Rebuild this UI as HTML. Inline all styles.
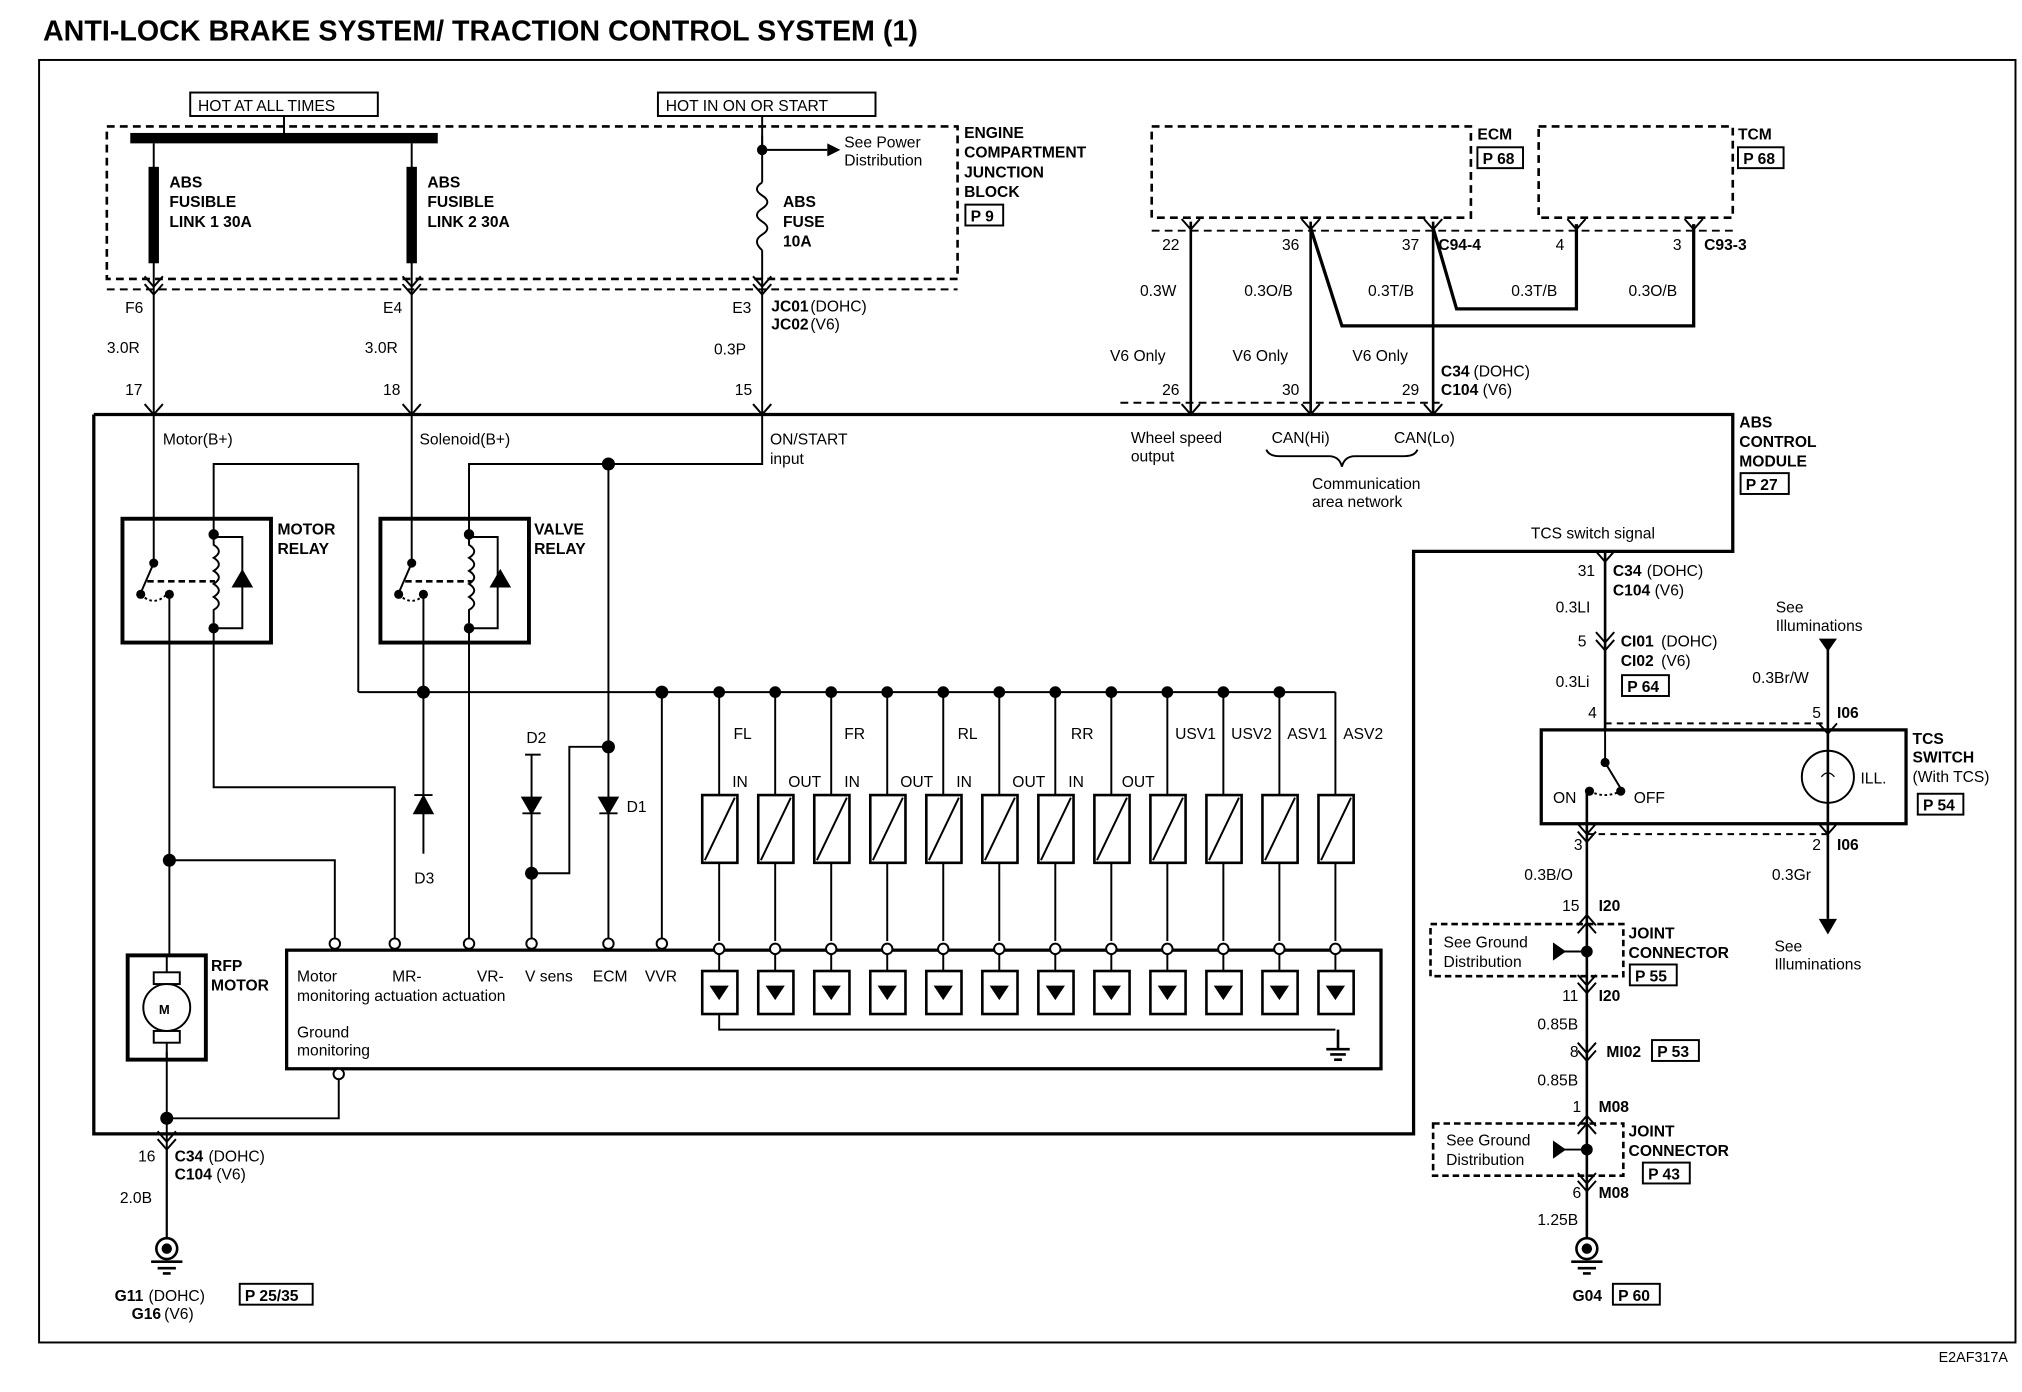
<!DOCTYPE html>
<html><head><meta charset="utf-8"><style>
html,body{margin:0;padding:0;background:#fff}
svg{display:block}
text{font-family:"Liberation Sans",Arial,sans-serif;font-size:13px;fill:#000}
.b{font-weight:bold}
.s{font-size:12px}
</style></head><body>
<svg width="2022" height="1392" viewBox="0 0 1552 1068" preserveAspectRatio="none" xmlns="http://www.w3.org/2000/svg">
<rect width="1552" height="1068" fill="#fff"/>
<text x="33" y="31" class="b" style="font-size:22px">ANTI-LOCK BRAKE SYSTEM/ TRACTION CONTROL SYSTEM (1)</text>
<rect x="30" y="46" width="1517" height="984" fill="none" stroke="#000" stroke-width="1.5"/>
<text x="1488" y="1045" style="font-size:11px">E2AF317A</text>

<g fill="none" stroke="#000" stroke-width="1.5">
<rect x="146" y="71" width="144" height="18"/>
<rect x="505" y="71" width="167" height="18"/>
<line x1="218" y1="89" x2="218" y2="104"/>
<line x1="585" y1="89" x2="585" y2="115"/>
<rect x="82" y="97" width="653" height="117" stroke-dasharray="6,4" stroke-width="2"/>
<line x1="82" y1="222" x2="735" y2="222" stroke-dasharray="6,4"/>
<line x1="118" y1="110" x2="118" y2="318"/>
<line x1="316" y1="110" x2="316" y2="318"/>
<line x1="585" y1="104" x2="585" y2="140"/>
<line x1="585" y1="192" x2="585" y2="318"/>
<path d="M585 140 q-8 5 0 10 q8 5 0 10 q-8 5 0 10 q8 5 0 10 q-8 5 0 12"/>
<line x1="585" y1="115" x2="635" y2="115"/>
<rect x="884" y="97" width="245" height="70" stroke-dasharray="6,4" stroke-width="2"/>
<rect x="1181" y="97" width="149" height="70" stroke-dasharray="6,4" stroke-width="2"/>
<line x1="884" y1="177" x2="1330" y2="177" stroke-dasharray="6,4"/>
<line x1="860" y1="309" x2="1105" y2="309" stroke-dasharray="6,4"/>
<line x1="914" y1="170" x2="914" y2="318" stroke-width="2"/>
<line x1="1006" y1="170" x2="1006" y2="318" stroke-width="2"/>
<line x1="1100" y1="170" x2="1100" y2="318" stroke-width="2"/>
<polyline points="1006,175 1030,250 1300,250 1300,172" stroke-width="2.5"/>
<polyline points="1100,175 1118,237 1210,237 1210,172" stroke-width="2.5"/>
<polyline points="72,318 1330,318 1330,423 1085,423 1085,870 72,870 72,318" stroke-width="2.5"/>
<path d="M972 345 q2 5 10 5 h38 q8 0 10 8 q2 -8 10 -8 h38 q8 0 10 -5"/>
<path d="M111 310 l7 8 l7 -8 M309 310 l7 8 l7 -8 M578 310 l7 8 l7 -8 M907 310 l7 8 l7 -8 M999 310 l7 8 l7 -8 M1093 310 l7 8 l7 -8"/>
<path d="M111 212 l7 8 l7 -8 M111 218 l7 8 l7 -8 M309 212 l7 8 l7 -8 M309 218 l7 8 l7 -8 M578 212 l7 8 l7 -8 M578 218 l7 8 l7 -8"/>
<path d="M907 168 l7 8 l7 -8 M999 168 l7 8 l7 -8 M1093 168 l7 8 l7 -8 M1203 168 l7 8 l7 -8 M1293 168 l7 8 l7 -8"/>
<rect x="94" y="398" width="114" height="95" stroke-width="3"/>
<rect x="292" y="398" width="114" height="95" stroke-width="3"/>
<line x1="118" y1="318" x2="118" y2="432"/>
<line x1="118" y1="432" x2="108" y2="455"/>
<path d="M108 456 q10 10 20 0" stroke-dasharray="2,2"/>
<line x1="113" y1="446" x2="165" y2="446" stroke-dasharray="5,3" stroke-width="2"/>
<line x1="130" y1="456" x2="130" y2="733"/>
<polyline points="164,410 164,356 275,356 275,531"/>
<path d="M164 410 v8 q8 5 0 10 q8 5 0 10 q8 5 0 10 q8 5 0 10 q8 5 0 10 v10"/>
<polyline points="164,412 186,412 186,482 164,482"/>
<polyline points="164,482 164,604 303,604 303,722"/>
<path d="M179 450 h14 M186 438 l-7 12 h14 z" fill="#000"/>
<line x1="316" y1="318" x2="316" y2="432"/>
<line x1="316" y1="432" x2="306" y2="455"/>
<path d="M306 456 q10 10 20 0" stroke-dasharray="2,2"/>
<line x1="311" y1="446" x2="362" y2="446" stroke-dasharray="5,3" stroke-width="2"/>
<line x1="325" y1="456" x2="325" y2="610"/>
<line x1="325" y1="624" x2="325" y2="655"/>
<path d="M318 610 h14 M318 624 l7 -13 l7 13 z" fill="#000"/>
<polyline points="360,410 360,356 585,356 585,318"/>
<path d="M360 410 v8 q8 5 0 10 q8 5 0 10 q8 5 0 10 q8 5 0 10 q8 5 0 10 v10"/>
<polyline points="360,412 382,412 382,482 360,482"/>
<line x1="360" y1="482" x2="360" y2="722"/>
<path d="M377 450 h14 M384 438 l-7 12 h14 z" fill="#000"/>
<line x1="275" y1="531" x2="986" y2="531"/>
<line x1="467" y1="356" x2="467" y2="722"/>
<path d="M460 624 h14 M460 612 l7 12 l7 -12 z" fill="#000"/>
<line x1="403" y1="579" x2="415" y2="579"/>
<line x1="408" y1="579" x2="408" y2="722"/>
<path d="M401 624 h14 M401 612 l7 12 l7 -12 z" fill="#000"/>
<polyline points="408,670 437,670 437,573 467,573"/>
<line x1="508" y1="531" x2="508" y2="722"/>
<polyline points="130,660 257,660 257,722"/>
<polyline points="128,807 128,875 128,950"/>
<polyline points="128,858 260,858 260,826"/>
<rect x="220" y="729" width="840" height="91" stroke-width="2.5"/>
<rect x="98" y="733" width="60" height="80" stroke-width="3"/>
<circle cx="128" cy="773" r="18"/>
<rect x="118" y="746" width="20" height="9"/>
<rect x="118" y="791" width="20" height="9"/>
<line x1="128" y1="733" x2="128" y2="746"/>
<line x1="128" y1="800" x2="128" y2="813"/>
<path d="M121 868 l7 8 l7 -8 M121 874 l7 8 l7 -8"/>
<line x1="128" y1="882" x2="128" y2="950"/>
<line x1="1232" y1="423" x2="1232" y2="560" stroke-width="2"/>
<path d="M1225 423 l7 8 l7 -8 M1225 485 l7 8 l7 -8 M1225 491 l7 8 l7 -8"/>
<line x1="1232" y1="555" x2="1403" y2="555" stroke-dasharray="5,4"/>
<rect x="1183" y="560" width="280" height="72" stroke-width="2.5"/>
<line x1="1232" y1="560" x2="1232" y2="585"/>
<line x1="1232" y1="585" x2="1244" y2="605"/>
<path d="M1220 607 q12 6 24 0" stroke-dasharray="2,2"/>
<line x1="1218" y1="607" x2="1218" y2="950" stroke-width="2"/>
<line x1="1218" y1="640" x2="1403" y2="640" stroke-dasharray="5,4"/>
<line x1="1403" y1="498" x2="1403" y2="705" stroke-width="2"/>
<circle cx="1403" cy="596" r="20"/>
<path d="M1396 555 l7 8 l7 -8 M1396 632 l7 8 l7 -8 M1211 632 l7 8 l7 -8 M1211 638 l7 8 l7 -8"/>
<rect x="1098" y="709" width="148" height="40" stroke-dasharray="5,3" stroke-width="2"/>
<rect x="1100" y="862" width="146" height="40" stroke-dasharray="5,3" stroke-width="2"/>
<path d="M1211 710 l7 -8 l7 8 M1211 716 l7 -8 l7 8 M1211 748 l7 8 l7 -8 M1211 754 l7 8 l7 -8 M1211 800 l7 8 l7 -8 M1211 806 l7 8 l7 -8 M1211 864 l7 -8 l7 8 M1211 870 l7 -8 l7 8 M1211 900 l7 8 l7 -8 M1211 906 l7 8 l7 -8"/>
<line x1="1200" y1="730" x2="1218" y2="730"/>
<line x1="1200" y1="882" x2="1218" y2="882"/>
</g>

<g fill="#000">
<rect x="100" y="102" width="236" height="8"/>
<rect x="114" y="128" width="8" height="74"/>
<rect x="312" y="128" width="8" height="74"/>
<circle cx="585" cy="115" r="4"/>
<path d="M635 110 l10 5 l-10 5 z"/>
<circle cx="164" cy="410" r="4"/><circle cx="164" cy="482" r="4"/>
<circle cx="118" cy="432" r="3.5"/><circle cx="108" cy="456" r="3.5"/><circle cx="130" cy="456" r="3.5"/>
<circle cx="360" cy="410" r="4"/><circle cx="360" cy="482" r="4"/>
<circle cx="316" cy="432" r="3.5"/><circle cx="306" cy="456" r="3.5"/><circle cx="325" cy="456" r="3.5"/>
<circle cx="467" cy="356" r="5"/><circle cx="325" cy="531" r="5"/><circle cx="508" cy="531" r="5"/>
<circle cx="467" cy="573" r="5"/><circle cx="408" cy="670" r="5"/><circle cx="130" cy="660" r="5"/><circle cx="128" cy="858" r="5"/>
<circle cx="1232" cy="585" r="3.5"/><circle cx="1244" cy="607" r="3.5"/><circle cx="1220" cy="607" r="3.5"/>
<path d="M1396 490 h14 l-7 10 z"/>
<path d="M1396 705 h14 l-7 12 z"/>
<circle cx="1218" cy="730" r="4.5"/><circle cx="1218" cy="882" r="4.5"/>
<path d="M1192 723 l10 7 l-10 7 z"/><path d="M1192 875 l10 7 l-10 7 z"/>
</g>
<g fill="none" stroke="#000" stroke-width="2">
<circle cx="128" cy="958" r="8"/><circle cx="1218" cy="958" r="8"/>
<path d="M116 968 h24 M121 973 h14 M125 977 h6 M1206 968 h24 M1211 973 h14 M1215 977 h6"/>
<path d="M1027 790 v15 M1018 805 h18 M1021 809 h12 M1024 813 h6"/>
</g>
<circle cx="128" cy="958" r="4"/><circle cx="1218" cy="958" r="4"/>
<path d="M1398 596 q5 -6 10 0 M1403 592 v10" stroke="#000" fill="none"/>

<g fill="none" stroke="#000" stroke-width="1.5" id="sol">
<line x1="552" y1="531" x2="552" y2="610"/><rect x="539" y="610" width="27" height="52" stroke-width="2"/><line x1="541" y1="660" x2="564" y2="612"/><line x1="552" y1="662" x2="552" y2="722"/><circle cx="552" cy="728" r="4" fill="#fff"/><line x1="552" y1="732" x2="552" y2="745"/><rect x="539" y="745" width="27" height="33" stroke-width="2"/><path d="M546 757 h12 l-6 9 z" fill="#000"/>
</g>
<use href="#sol" x="43"/><use href="#sol" x="86"/><use href="#sol" x="129"/><use href="#sol" x="172"/><use href="#sol" x="215"/><use href="#sol" x="258"/><use href="#sol" x="301"/><use href="#sol" x="344"/><use href="#sol" x="387"/><use href="#sol" x="430"/><use href="#sol" x="473"/>
<g fill="#000">
<circle cx="552" cy="531" r="4.5"/><circle cx="595" cy="531" r="4.5"/><circle cx="638" cy="531" r="4.5"/><circle cx="681" cy="531" r="4.5"/><circle cx="724" cy="531" r="4.5"/><circle cx="767" cy="531" r="4.5"/><circle cx="810" cy="531" r="4.5"/><circle cx="853" cy="531" r="4.5"/><circle cx="896" cy="531" r="4.5"/><circle cx="939" cy="531" r="4.5"/><circle cx="982" cy="531" r="4.5"/>
</g>
<line x1="982" y1="531" x2="1025" y2="531" stroke="#000" stroke-width="1.5"/>
<polyline points="552,778 552,790 1025,790" fill="none" stroke="#000" stroke-width="1.5"/>
<g fill="#fff" stroke="#000" stroke-width="1.5">
<circle cx="257" cy="724" r="4"/><circle cx="303" cy="724" r="4"/><circle cx="360" cy="724" r="4"/><circle cx="408" cy="724" r="4"/><circle cx="467" cy="724" r="4"/><circle cx="508" cy="724" r="4"/><circle cx="260" cy="824" r="4"/>
</g>

<text x="152" y="85" class="s">HOT AT ALL TIMES</text>
<text x="511" y="85" class="s">HOT IN ON OR START</text>
<text x="648" y="113" class="s">See Power</text><text x="648" y="127" class="s">Distribution</text>
<text x="740" y="106" class="b s">ENGINE</text><text x="740" y="121" class="b s">COMPARTMENT</text><text x="740" y="136" class="b s">JUNCTION</text><text x="740" y="151" class="b s">BLOCK</text>
<rect x="741" y="157" width="29" height="16" fill="none" stroke="#000" stroke-width="1.5"/><text x="745" y="170" class="b s">P 9</text>
<text x="130" y="144" class="b s">ABS</text><text x="130" y="159" class="b s">FUSIBLE</text><text x="130" y="174" class="b s">LINK 1 30A</text>
<text x="328" y="144" class="b s">ABS</text><text x="328" y="159" class="b s">FUSIBLE</text><text x="328" y="174" class="b s">LINK 2 30A</text>
<text x="601" y="159" class="b s">ABS</text><text x="601" y="174" class="b s">FUSE</text><text x="601" y="189" class="b s">10A</text>
<text x="96" y="240" class="s">F6</text><text x="294" y="240" class="s">E4</text><text x="562" y="240" class="s">E3</text>
<text x="592" y="239" class="b s">JC01</text><text x="622" y="239" class="s">(DOHC)</text>
<text x="592" y="253" class="b s">JC02</text><text x="622" y="253" class="s">(V6)</text>
<text x="82" y="271" class="s">3.0R</text><text x="280" y="271" class="s">3.0R</text><text x="548" y="272" class="s">0.3P</text>
<text x="96" y="303" class="s">17</text><text x="294" y="303" class="s">18</text><text x="564" y="303" class="s">15</text>
<text x="125" y="341" class="s">Motor(B+)</text><text x="322" y="341" class="s">Solenoid(B+)</text>
<text x="591" y="341" class="s">ON/START</text><text x="591" y="356" class="s">input</text>
<text x="1134" y="107" class="b s">ECM</text><rect x="1134" y="113" width="35" height="16" fill="none" stroke="#000" stroke-width="1.5"/><text x="1138" y="126" class="b s">P 68</text>
<text x="1334" y="107" class="b s">TCM</text><rect x="1334" y="113" width="35" height="16" fill="none" stroke="#000" stroke-width="1.5"/><text x="1338" y="126" class="b s">P 68</text>
<text x="892" y="192" class="s">22</text><text x="984" y="192" class="s">36</text><text x="1076" y="192" class="s">37</text><text x="1104" y="192" class="b s">C94-4</text>
<text x="1194" y="192" class="s">4</text><text x="1284" y="192" class="s">3</text><text x="1308" y="192" class="b s">C93-3</text>
<text x="875" y="227" class="s">0.3W</text><text x="955" y="227" class="s">0.3O/B</text><text x="1050" y="227" class="s">0.3T/B</text><text x="1160" y="227" class="s">0.3T/B</text><text x="1250" y="227" class="s">0.3O/B</text>
<text x="852" y="277" class="s">V6 Only</text><text x="946" y="277" class="s">V6 Only</text><text x="1038" y="277" class="s">V6 Only</text>
<text x="892" y="303" class="s">26</text><text x="984" y="303" class="s">30</text><text x="1076" y="303" class="s">29</text>
<text x="1106" y="289" class="b s">C34</text><text x="1131" y="289" class="s">(DOHC)</text><text x="1106" y="303" class="b s">C104</text><text x="1138" y="303" class="s">(V6)</text>
<text x="868" y="340" class="s">Wheel speed</text><text x="868" y="354" class="s">output</text>
<text x="976" y="340" class="s">CAN(Hi)</text><text x="1070" y="340" class="s">CAN(Lo)</text>
<text x="1007" y="375" class="s">Communication</text><text x="1007" y="389" class="s">area network</text>
<text x="1335" y="328" class="b s">ABS</text><text x="1335" y="343" class="b s">CONTROL</text><text x="1335" y="358" class="b s">MODULE</text>
<rect x="1336" y="363" width="37" height="16" fill="none" stroke="#000" stroke-width="1.5"/><text x="1340" y="376" class="b s">P 27</text>
<text x="1175" y="413" class="s">TCS switch signal</text>
<text x="213" y="410" class="b s">MOTOR</text><text x="213" y="425" class="b s">RELAY</text>
<text x="410" y="410" class="b s">VALVE</text><text x="410" y="425" class="b s">RELAY</text>
<text x="404" y="570" class="s">D2</text><text x="481" y="623" class="s">D1</text><text x="318" y="678" class="s">D3</text>
<text x="563" y="567" class="s">FL</text><text x="648" y="567" class="s">FR</text><text x="735" y="567" class="s">RL</text><text x="822" y="567" class="s">RR</text>
<text x="902" y="567" class="s">USV1</text><text x="945" y="567" class="s">USV2</text><text x="988" y="567" class="s">ASV1</text><text x="1031" y="567" class="s">ASV2</text>
<text x="562" y="604" class="s">IN</text><text x="605" y="604" class="s">OUT</text><text x="648" y="604" class="s">IN</text><text x="691" y="604" class="s">OUT</text><text x="734" y="604" class="s">IN</text><text x="777" y="604" class="s">OUT</text><text x="820" y="604" class="s">IN</text><text x="861" y="604" class="s">OUT</text>
<text x="162" y="745" class="b s">RFP</text><text x="162" y="760" class="b s">MOTOR</text>
<text x="122" y="778" class="b" style="font-size:10px">M</text>
<text x="228" y="753" class="s">Motor</text><text x="301" y="753" class="s">MR-</text><text x="366" y="753" class="s">VR-</text><text x="403" y="753" class="s">V sens</text><text x="455" y="753" class="s">ECM</text><text x="495" y="753" class="s">VVR</text>
<text x="228" y="768" class="s">monitoring actuation actuation</text>
<text x="228" y="796" class="s">Ground</text><text x="228" y="810" class="s">monitoring</text>
<text x="106" y="891" class="s">16</text><text x="134" y="891" class="b s">C34</text><text x="160" y="891" class="s">(DOHC)</text>
<text x="134" y="905" class="b s">C104</text><text x="166" y="905" class="s">(V6)</text>
<text x="92" y="923" class="s">2.0B</text>
<text x="88" y="998" class="b s">G11</text><text x="114" y="998" class="s">(DOHC)</text>
<rect x="184" y="985" width="56" height="16" fill="none" stroke="#000" stroke-width="1.5"/><text x="188" y="998" class="b s">P 25/35</text>
<text x="101" y="1012" class="b s">G16</text><text x="126" y="1012" class="s">(V6)</text>
<text x="1211" y="442" class="s">31</text><text x="1238" y="442" class="b s">C34</text><text x="1264" y="442" class="s">(DOHC)</text>
<text x="1238" y="457" class="b s">C104</text><text x="1270" y="457" class="s">(V6)</text>
<text x="1194" y="470" class="s">0.3LI</text>
<text x="1211" y="496" class="s">5</text><text x="1244" y="496" class="b s">CI01</text><text x="1275" y="496" class="s">(DOHC)</text>
<text x="1244" y="511" class="b s">CI02</text><text x="1275" y="511" class="s">(V6)</text>
<rect x="1245" y="518" width="36" height="16" fill="none" stroke="#000" stroke-width="1.5"/><text x="1249" y="531" class="b s">P 64</text>
<text x="1194" y="527" class="s">0.3Li</text>
<text x="1363" y="470" class="s">See</text><text x="1363" y="484" class="s">Illuminations</text>
<text x="1345" y="524" class="s">0.3Br/W</text>
<text x="1219" y="551" class="s">4</text><text x="1391" y="551" class="s">5</text><text x="1410" y="551" class="b s">I06</text>
<text x="1468" y="571" class="b s">TCS</text><text x="1468" y="585" class="b s">SWITCH</text><text x="1468" y="600" class="s">(With TCS)</text>
<rect x="1472" y="609" width="35" height="16" fill="none" stroke="#000" stroke-width="1.5"/><text x="1476" y="622" class="b s">P 54</text>
<text x="1192" y="616" class="s">ON</text><text x="1254" y="616" class="s">OFF</text><text x="1428" y="601" class="s">ILL.</text>
<text x="1208" y="652" class="s">3</text><text x="1391" y="652" class="s">2</text><text x="1410" y="652" class="b s">I06</text>
<text x="1170" y="675" class="s">0.3B/O</text><text x="1360" y="675" class="s">0.3Gr</text>
<text x="1199" y="699" class="s">15</text><text x="1227" y="699" class="b s">I20</text>
<text x="1108" y="727" class="s">See Ground</text><text x="1108" y="742" class="s">Distribution</text>
<text x="1250" y="720" class="b s">JOINT</text><text x="1250" y="735" class="b s">CONNECTOR</text>
<rect x="1251" y="740" width="36" height="16" fill="none" stroke="#000" stroke-width="1.5"/><text x="1255" y="753" class="b s">P 55</text>
<text x="1362" y="730" class="s">See</text><text x="1362" y="744" class="s">Illuminations</text>
<text x="1199" y="768" class="s">11</text><text x="1227" y="768" class="b s">I20</text>
<text x="1180" y="790" class="s">0.85B</text>
<text x="1205" y="811" class="s">8</text><text x="1233" y="811" class="b s">MI02</text>
<rect x="1268" y="798" width="36" height="16" fill="none" stroke="#000" stroke-width="1.5"/><text x="1272" y="811" class="b s">P 53</text>
<text x="1180" y="833" class="s">0.85B</text>
<text x="1207" y="853" class="s">1</text><text x="1227" y="853" class="b s">M08</text>
<text x="1110" y="879" class="s">See Ground</text><text x="1110" y="894" class="s">Distribution</text>
<text x="1250" y="872" class="b s">JOINT</text><text x="1250" y="887" class="b s">CONNECTOR</text>
<rect x="1261" y="892" width="36" height="16" fill="none" stroke="#000" stroke-width="1.5"/><text x="1265" y="905" class="b s">P 43</text>
<text x="1207" y="919" class="s">6</text><text x="1227" y="919" class="b s">M08</text>
<text x="1180" y="940" class="s">1.25B</text>
<text x="1207" y="998" class="b s">G04</text>
<rect x="1238" y="985" width="36" height="16" fill="none" stroke="#000" stroke-width="1.5"/><text x="1242" y="998" class="b s">P 60</text>
</svg>
</body></html>
